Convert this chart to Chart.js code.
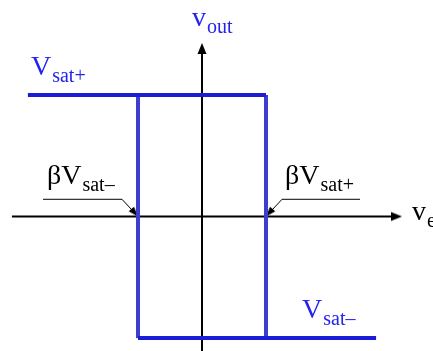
<!DOCTYPE html>
<html><head><meta charset="utf-8">
<script src="https://cdn.jsdelivr.net/npm/chart.js@4"></script>
<style>html,body{margin:0;padding:0;background:#fff}canvas{display:block}</style>
</head><body>
<canvas id="c" width="433" height="351"></canvas>
<script>
// ---- Data (input voltage in units of the threshold; thresholds at ±1) ----
const betaVsatMinus = -1;          // lower switching threshold
const betaVsatPlus = 1;            // upper switching threshold
const vsatPlus = 1.9;              // positive saturation level
const vsatMinus = -1.9;            // negative saturation level
const vinLeftEnd = -2.72;          // where the upper branch starts
const vinRightEnd = 2.72;          // where the lower branch ends
const xAxisLine = [-2.97, 3.0];    // horizontal axis extent
const xAxisTip = 3.125;            // horizontal axis arrow tip
const yAxisLine = [-2.2, 2.6];     // vertical axis extent
const yAxisTip = 2.711;            // vertical axis arrow tip
const leaderLeftX = [-2.484, -1.25, betaVsatMinus];
const leaderLeftY = [0.269, 0.269, 0];
const leaderRightX = [2.469, 1.25, betaVsatPlus];
const leaderRightY = [0.269, 0.269, 0];
const labelMain = ['v', 'V', '\u03B2V', '\u03B2V', 'V', 'v'];
const labelSub  = ['out', 'sat+', 'sat\u2013', 'sat+', 'sat\u2013', 'e'];
const labelX    = [-0.156, -2.672, -2.422, 1.297, 1.5625, 3.281];
const labelY    = [2.977, 2.211, 0.508, 0.508, -1.586, -0.055];
const labelColor = ['#2323ee', '#2323ee', '#000000', '#000000', '#2323ee', '#000000'];

const SERIF = '"Liberation Serif", "Times New Roman", Times, "DejaVu Serif", serif';

// ---- arrowhead images (tip at image centre, pointing up) ----
function arrowImg(len, wid) {
  const s = Math.ceil(len * 2 + 2);
  const c = document.createElement('canvas');
  c.width = s; c.height = s;
  const g = c.getContext('2d');
  const cx = s / 2, cy = s / 2;
  g.fillStyle = '#000';
  g.beginPath();
  g.moveTo(cx, cy);
  g.lineTo(cx - wid / 2, cy + len);
  g.lineTo(cx + wid / 2, cy + len);
  g.closePath();
  g.fill();
  return c;
}
const bigArrow = arrowImg(11, 9);
const smallArrow = arrowImg(10, 7);

const blueH = '#1c1cd6';
const blueV = '#3d3dd2';
const pts = (xs, ys) => xs.map((v, i) => ({x: v, y: ys[i]}));
const lineDs = (data, color, width) => ({
  data, showLine: true, borderColor: color, borderWidth: width,
  pointRadius: 0, pointHoverRadius: 0, fill: false, tension: 0, borderCapStyle: 'butt'
});

const datasets = [
  lineDs(pts([vinLeftEnd, betaVsatPlus], [vsatPlus, vsatPlus]), blueH, 4),
  lineDs(pts([betaVsatMinus, vinRightEnd], [vsatMinus, vsatMinus]), blueH, 4),
  lineDs(pts([betaVsatPlus, betaVsatPlus], [vsatPlus, vsatMinus]), blueV, 4),
  lineDs(pts([betaVsatMinus, betaVsatMinus], [vsatMinus, vsatPlus]), blueV, 4),
  {
    data: [{x: leaderLeftX[2], y: leaderLeftY[2]}, {x: leaderRightX[2], y: leaderRightY[2]}],
    showLine: false, pointStyle: smallArrow, pointRadius: 5, pointRotation: [138.4, 221.6],
    pointBorderWidth: 0
  },
  lineDs(pts(leaderLeftX, leaderLeftY), '#000', 1),
  lineDs(pts(leaderRightX, leaderRightY), '#000', 1),
  {
    data: [{x: xAxisTip, y: 0}, {x: 0, y: yAxisTip}],
    showLine: false, pointStyle: bigArrow, pointRadius: 6, pointRotation: [90, 0],
    pointBorderWidth: 0
  },
  lineDs(pts(xAxisLine, [0, 0]), '#000', 2),
  lineDs(pts([0, 0], yAxisLine), '#000', 2)
];

const labelPlugin = {
  id: 'textLabels',
  afterDatasetsDraw(chart) {
    const {ctx, scales: {x, y}} = chart;
    ctx.save();
    ctx.textAlign = 'left';
    ctx.textBaseline = 'alphabetic';
    labelMain.forEach((m, i) => {
      const px = x.getPixelForValue(labelX[i]);
      const py = y.getPixelForValue(labelY[i]);
      ctx.fillStyle = labelColor[i];
      ctx.font = '28px ' + SERIF;
      ctx.fillText(m, px, py);
      const w = ctx.measureText(m).width;
      ctx.font = '20px ' + SERIF;
      ctx.fillText(labelSub[i], px + w + 1, py + 7);
    });
    ctx.restore();
  }
};

function draw() {
  new Chart(document.getElementById('c'), {
    type: 'scatter',
    data: {datasets},
    options: {
      responsive: false,
      animation: false,
      events: [],
      layout: {padding: 0, autoPadding: false},
      plugins: {legend: {display: false}, tooltip: {enabled: false}},
      scales: {
        x: {type: 'linear', min: -202 / 64, max: 231 / 64, display: false},
        y: {type: 'linear', min: -134.5 / 64, max: 216.5 / 64, display: false}
      }
    },
    plugins: [labelPlugin]
  });
}
Promise.all([
  document.fonts.load('28px "Liberation Serif"', 'V\u03B2'),
  document.fonts.load('20px "Liberation Serif"', 'sat')
]).then(draw, draw);
</script>
</body></html>
